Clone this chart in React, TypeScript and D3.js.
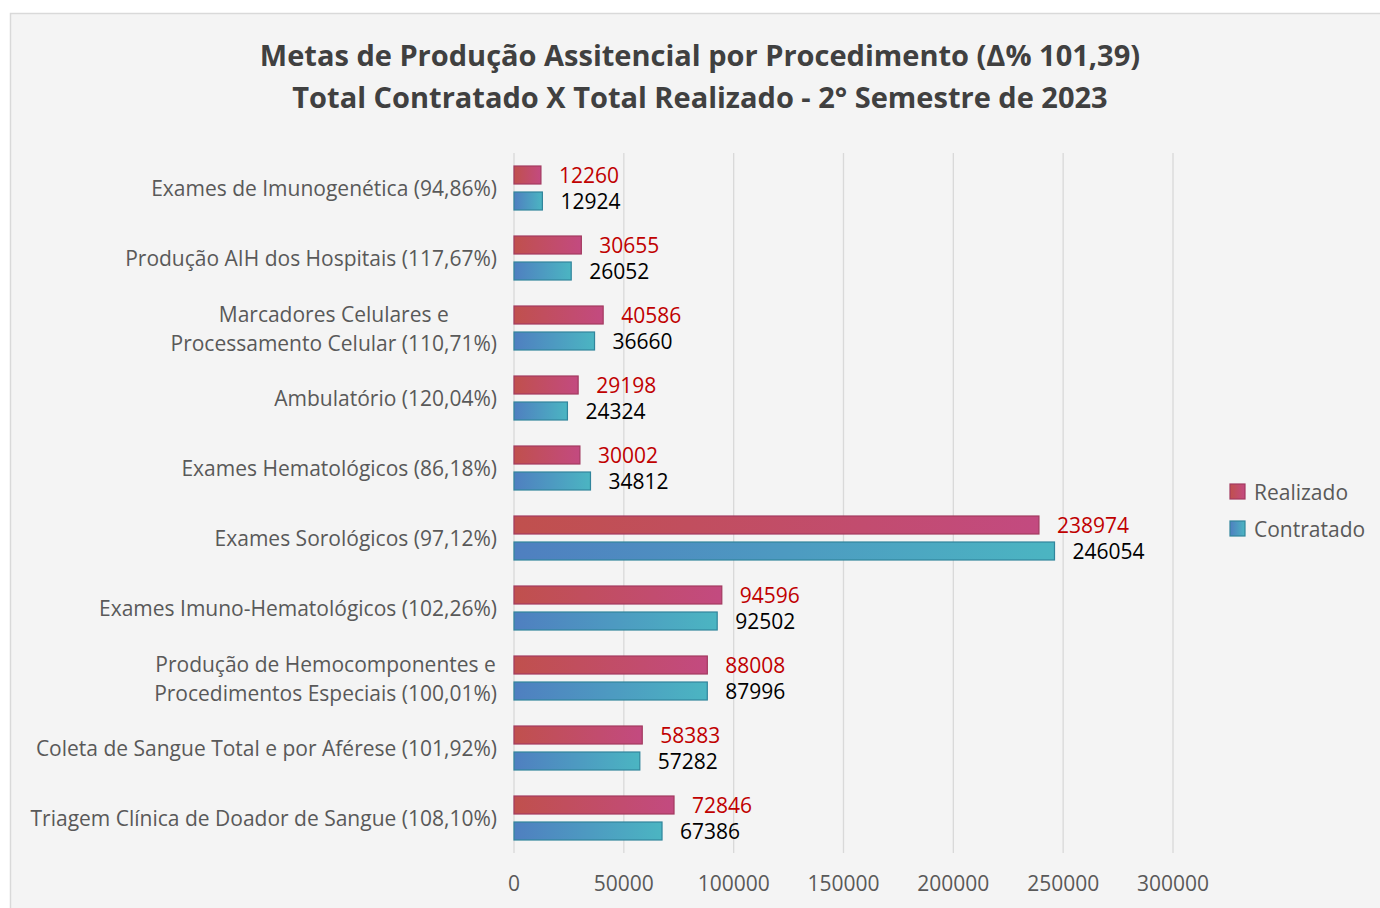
import React from "react";
import * as d3 from "d3";

const categories: string[][] = [
  ["Exames de Imunogenética (94,86%)"],
  ["Produção AIH dos Hospitais (117,67%)"],
  ["Marcadores Celulares e", "Processamento Celular (110,71%)"],
  ["Ambulatório (120,04%)"],
  ["Exames Hematológicos (86,18%)"],
  ["Exames Sorológicos (97,12%)"],
  ["Exames Imuno-Hematológicos (102,26%)"],
  ["Produção de Hemocomponentes e", "Procedimentos Especiais (100,01%)"],
  ["Coleta de Sangue Total e por Aférese (101,92%)"],
  ["Triagem Clínica de Doador de Sangue (108,10%)"],
];
const realizado: number[] = [12260, 30655, 40586, 29198, 30002, 238974, 94596, 88008, 58383, 72846];
const contratado: number[] = [12924, 26052, 36660, 24324, 34812, 246054, 92502, 87996, 57282, 67386];
const xTicks: number[] = [0, 50000, 100000, 150000, 200000, 250000, 300000];
const titleLines: string[] = [
  "Metas de Produção Assitencial por Procedimento (Δ% 101,39)",
  "Total Contratado X Total Realizado - 2° Semestre de 2023",
];
const seriesNames: string[] = ["Realizado", "Contratado"];

const W = 1380;
const H = 908;
const FONT = "'Open Sans', 'Noto Sans', sans-serif";
const FS = 21;

let ctx: CanvasRenderingContext2D | null = null;
function measure(s: string): number {
  if (!ctx) {
    const c = document.createElement("canvas");
    ctx = c.getContext("2d");
  }
  if (!ctx) return s.length * 10;
  ctx.font = `${FS}px 'Open Sans', 'Noto Sans', sans-serif`;
  return ctx.measureText(s).width;
}

export default function App() {
  const x = d3.scaleLinear().domain([0, 300000]).range([514, 1173]);
  const y = d3
    .scaleBand<number>()
    .domain(d3.range(categories.length))
    .range([153, 853]);
  const barH = 18;
  const gap = 8;
  const labelRight = 497;

  return (
    <svg
      width={W}
      height={H}
      style={{ position: "absolute", left: 0, top: 0 }}
      fontFamily={FONT}
    >
      <defs>
        <linearGradient id="gRed" x1="0" x2="1" y1="0" y2="0">
          <stop offset="0" stopColor="#c0504d" />
          <stop offset="1" stopColor="#c34a80" />
        </linearGradient>
        <linearGradient id="gBlue" x1="0" x2="1" y1="0" y2="0">
          <stop offset="0" stopColor="#4f7fc0" />
          <stop offset="1" stopColor="#4bb5c2" />
        </linearGradient>
      </defs>
      <rect x={0} y={0} width={W} height={H} fill="#ffffff" />
      <rect
        x={10.5}
        y={13.5}
        width={1375}
        height={900}
        fill="#f4f4f4"
        stroke="#d9d9d9"
        strokeWidth={1.5}
      />
      {titleLines.map((t, i) => (
        <text
          key={i}
          x={700}
          y={54 + i * 42}
          textAnchor="middle"
          dominantBaseline="central"
          fontSize={29}
          fontWeight="bold"
          fill="#404040"
        >
          {t}
        </text>
      ))}
      {xTicks.map((t) => (
        <g key={t}>
          <line
            x1={x(t)}
            x2={x(t)}
            y1={153}
            y2={853}
            stroke="#d9d9d9"
            strokeWidth={1.3}
          />
          <text
            x={x(t)}
            y={883}
            textAnchor="middle"
            dominantBaseline="central"
            fontSize={FS}
            fill="#595959"
          >
            {t}
          </text>
        </g>
      ))}
      {categories.map((lines, i) => {
        const c = (y(i) as number) + y.bandwidth() / 2;
        const rY = c - gap / 2 - barH;
        const bY = c + gap / 2;
        const maxW = lines.length > 1 ? Math.max(...lines.map(measure)) : 0;
        return (
          <g key={i}>
            {lines.map((l, j) => (
              <text
                key={j}
                x={lines.length > 1 ? labelRight - maxW / 2 : labelRight}
                y={c + (j - (lines.length - 1) / 2) * 29}
                textAnchor={lines.length > 1 ? "middle" : "end"}
                dominantBaseline="central"
                fontSize={FS}
                fill="#595959"
              >
                {l}
              </text>
            ))}
            <rect
              x={x(0)}
              y={rY}
              width={x(realizado[i]) - x(0)}
              height={barH}
              fill="url(#gRed)"
              stroke="#a33a60"
              strokeWidth={1.2}
            />
            <rect
              x={x(0)}
              y={bY}
              width={x(contratado[i]) - x(0)}
              height={barH}
              fill="url(#gBlue)"
              stroke="#31859c"
              strokeWidth={1.2}
            />
            <text
              x={x(realizado[i]) + 18}
              y={rY + barH / 2}
              dominantBaseline="central"
              fontSize={FS}
              fill="#c00000"
            >
              {realizado[i]}
            </text>
            <text
              x={x(contratado[i]) + 18}
              y={bY + barH / 2}
              dominantBaseline="central"
              fontSize={FS}
              fill="#000000"
            >
              {contratado[i]}
            </text>
          </g>
        );
      })}
      {seriesNames.map((s, i) => (
        <g key={s}>
          <rect
            x={1230}
            y={484 + i * 37}
            width={15}
            height={15}
            fill={i === 0 ? "url(#gRed)" : "url(#gBlue)"}
            stroke={i === 0 ? "#a33a60" : "#31859c"}
            strokeWidth={1.2}
          />
          <text
            x={1254}
            y={492 + i * 37}
            dominantBaseline="central"
            fontSize={FS}
            fill="#595959"
          >
            {s}
          </text>
        </g>
      ))}
    </svg>
  );
}
